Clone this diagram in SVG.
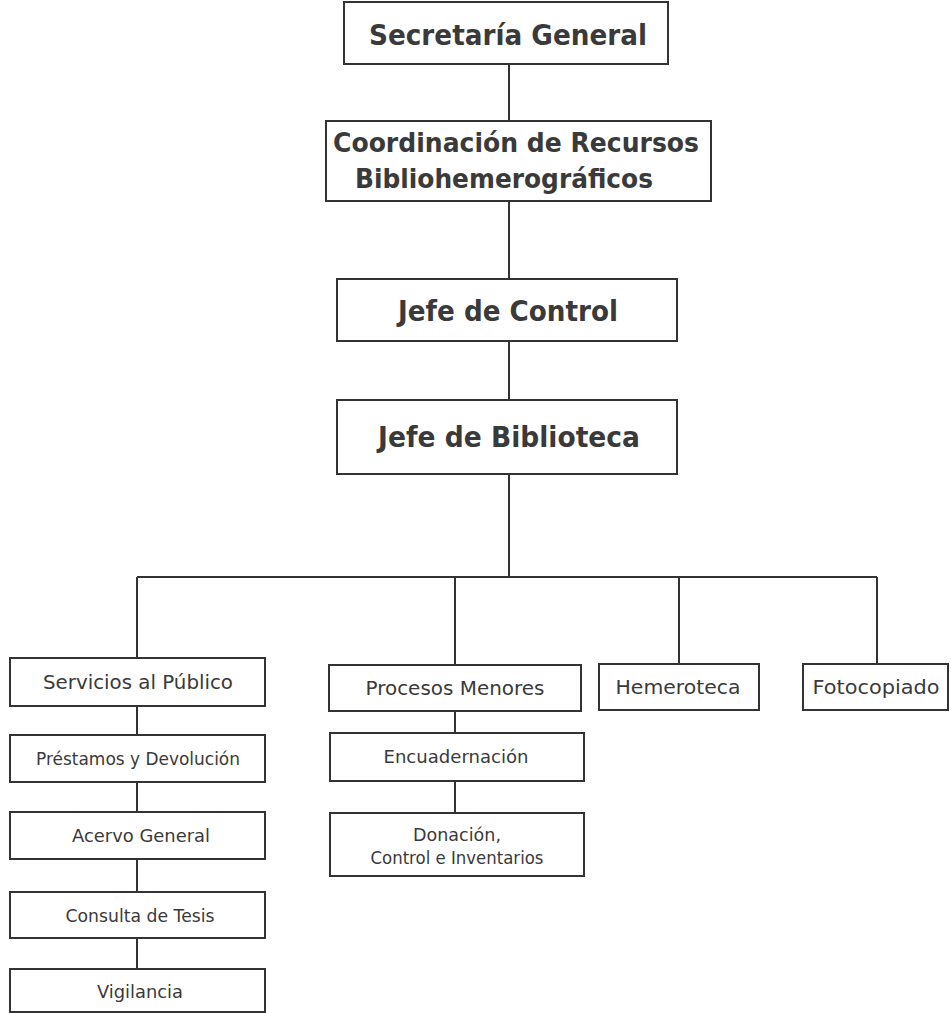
<svg xmlns="http://www.w3.org/2000/svg" width="951" height="1013" viewBox="0 0 951 1013">
<style>
.box{fill:#ffffff;stroke:#333333;stroke-width:2}
.ln{fill:none;stroke:#333333;stroke-width:2}
.t1{font-family:"DejaVu Sans",sans-serif;font-weight:bold;fill:#3a3a3a;text-anchor:middle}
.t2{font-family:"DejaVu Sans",sans-serif;fill:#3a3a3a;text-anchor:middle}
</style>
<rect x="0" y="0" width="951" height="1013" fill="#ffffff"/>
<g id="connectors">
<path class="ln" d="M509 64V121M509 201V279M509 341V400M509 474V577M137 577H877M137 577V658M455 577V665M679 577V664M877 577V664"/>
<path class="ln" d="M137 706V735M137 782V812M137 859V892M137 938V969"/>
<path class="ln" d="M455 711V733M455 781V813"/>
</g>
<g id="secretaria"><rect class="box" x="344" y="2" width="324" height="62"/><text class="t1" x="508" y="45" font-size="29" textLength="278" lengthAdjust="spacingAndGlyphs">Secretaría General</text></g>
<g id="coordinacion"><rect class="box" x="326" y="121" width="385" height="80"/><text class="t1" x="516" y="152" font-size="27" textLength="366" lengthAdjust="spacingAndGlyphs">Coordinación de Recursos</text><text class="t1" x="504" y="188" font-size="27" textLength="298" lengthAdjust="spacingAndGlyphs">Bibliohemerográficos</text></g>
<g id="jefe-control"><rect class="box" x="337" y="279" width="340" height="62"/><text class="t1" x="508" y="321" font-size="29" textLength="220" lengthAdjust="spacingAndGlyphs">Jefe de Control</text></g>
<g id="jefe-biblioteca"><rect class="box" x="337" y="400" width="340" height="74"/><text class="t1" x="509" y="447" font-size="29" textLength="262" lengthAdjust="spacingAndGlyphs">Jefe de Biblioteca</text></g>
<g id="servicios"><rect class="box" x="10" y="658" width="255" height="48"/><text class="t2" x="138" y="689" font-size="20" textLength="190" lengthAdjust="spacingAndGlyphs">Servicios al Público</text></g>
<g id="procesos"><rect class="box" x="329" y="665" width="252" height="46"/><text class="t2" x="455" y="695" font-size="20" textLength="179" lengthAdjust="spacingAndGlyphs">Procesos Menores</text></g>
<g id="hemeroteca"><rect class="box" x="599" y="664" width="160" height="46"/><text class="t2" x="678" y="694" font-size="20" textLength="125" lengthAdjust="spacingAndGlyphs">Hemeroteca</text></g>
<g id="fotocopiado"><rect class="box" x="803" y="664" width="145" height="46"/><text class="t2" x="876" y="694" font-size="20" textLength="127" lengthAdjust="spacingAndGlyphs">Fotocopiado</text></g>
<g id="prestamos"><rect class="box" x="10" y="735" width="255" height="47"/><text class="t2" x="138" y="765" font-size="18" textLength="204" lengthAdjust="spacingAndGlyphs">Préstamos y Devolución</text></g>
<g id="acervo"><rect class="box" x="10" y="812" width="255" height="47"/><text class="t2" x="141" y="842" font-size="18" textLength="138" lengthAdjust="spacingAndGlyphs">Acervo General</text></g>
<g id="consulta"><rect class="box" x="10" y="892" width="255" height="46"/><text class="t2" x="140" y="922" font-size="18" textLength="149" lengthAdjust="spacingAndGlyphs">Consulta de Tesis</text></g>
<g id="vigilancia"><rect class="box" x="10" y="969" width="255" height="43"/><text class="t2" x="140" y="998" font-size="18" textLength="86" lengthAdjust="spacingAndGlyphs">Vigilancia</text></g>
<g id="encuadernacion"><rect class="box" x="330" y="733" width="254" height="48"/><text class="t2" x="456" y="763" font-size="18" textLength="145" lengthAdjust="spacingAndGlyphs">Encuadernación</text></g>
<g id="donacion"><rect class="box" x="330" y="813" width="254" height="63"/><text class="t2" x="457" y="841" font-size="18" textLength="88" lengthAdjust="spacingAndGlyphs">Donación,</text><text class="t2" x="457" y="864" font-size="18" textLength="173" lengthAdjust="spacingAndGlyphs">Control e Inventarios</text></g>
</svg>
